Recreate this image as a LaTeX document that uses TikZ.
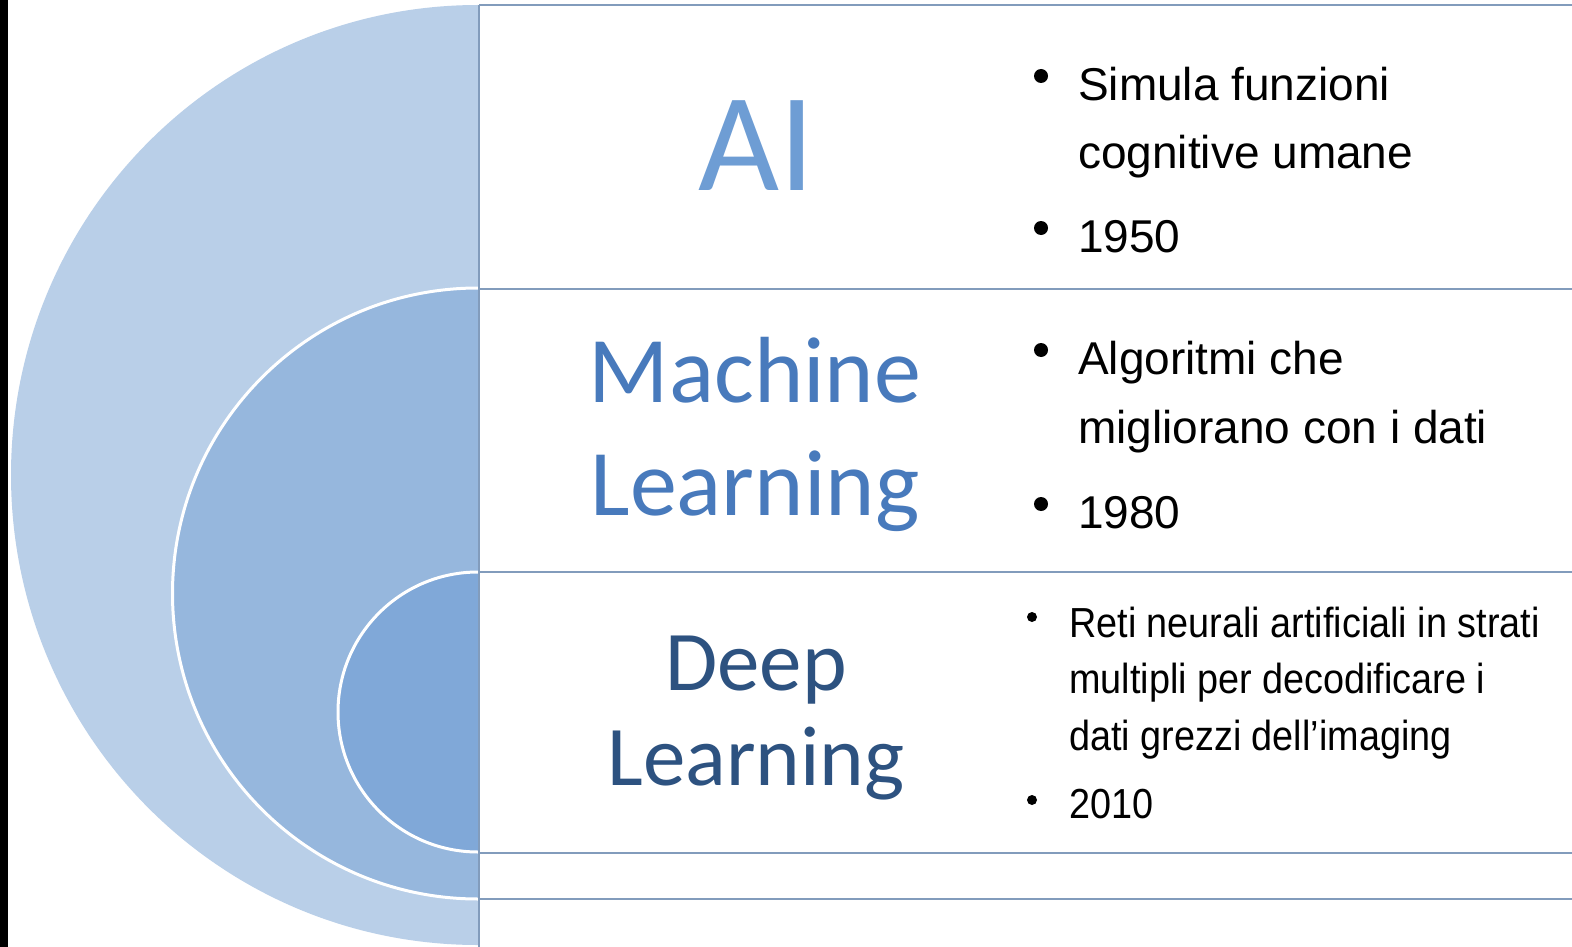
\documentclass[tikz,border=0pt]{standalone}
\usepackage{fontspec}
\setmainfont{Liberation Sans}
\newfontfamily\calibri{Carlito}
\newfontfamily\narrow[FakeStretch=0.9]{Liberation Sans}

\definecolor{outerfill}{RGB}{185,207,232}
\definecolor{midfill}{RGB}{150,183,221}
\definecolor{innerfill}{RGB}{128,168,216}
\definecolor{rulecol}{RGB}{130,156,188}
\definecolor{aicol}{RGB}{110,157,212}
\definecolor{mlcol}{RGB}{72,122,188}
\definecolor{dlcol}{RGB}{45,82,128}

\begin{document}
\begin{tikzpicture}[x=1pt, y=-1pt]
\tikzset{ring/.style = {draw=white, line width=3pt}}
\tikzset{rule/.style = {draw=rulecol, line width=2.5pt}}
\tikzset{title/.style = {align=center, inner sep=0pt, anchor=base}}
\tikzset{bullets/.style = {anchor=base west, align=left, inner sep=0pt}}

\useasboundingbox (0,0) rectangle (1572,947);
\fill[white] (0,0) rectangle (1572,947);
\fill[black] (0,0) rectangle (8,947);

% nested half discs
\fill[outerfill] (478,5) arc[start angle=270, end angle=90, x radius=467, y radius=470] -- cycle;
\fill[midfill] (478,288) arc[start angle=270, end angle=90, radius=305.5] -- cycle;
\draw[ring] (478,288) arc[start angle=270, end angle=90, radius=305.5];
\fill[innerfill] (478,572) arc[start angle=270, end angle=90, radius=140] -- cycle;
\draw[ring] (478,572) arc[start angle=270, end angle=90, radius=140];

% table rules
\foreach \y in {5,289,572,853,899}
  \draw[rule] (479,\y) -- (1572,\y);
\draw[rule] (479,5) -- (479,947);

% titles (base = last line)
\node[title, text=aicol, font=\calibri\fontsize{140}{140}\selectfont] (ai) at (757,190) {AI};
\node[title, text=mlcol, font=\calibri\fontsize{94}{113}\selectfont] (ml) at (755,515) {Machine\\Learning};
\node[title, text=dlcol, font=\calibri\fontsize{85}{95}\selectfont] (dl) at (756,785) {Deep\\Learning};

% bullet points
\foreach \x/\y/\r in {1041/76/7, 1041/228/7, 1041/350/7, 1041/504/7, 1032/617/5, 1032/800/5}
  \fill[black] (\x,\y) circle (\r);

\node[bullets, font=\fontsize{46}{68}\selectfont] (aione) at (1078,168) {Simula funzioni\\cognitive umane};
\node[bullets, font=\fontsize{46}{68}\selectfont] (aitwo) at (1078,252) {1950};
\node[bullets, font=\fontsize{46}{69}\selectfont] (mlone) at (1078,443) {Algoritmi che\\migliorano con i dati};
\node[bullets, font=\fontsize{46}{68}\selectfont] (mltwo) at (1078,528) {1980};
\node[bullets, font=\narrow\fontsize{42}{56.5}\selectfont] (dlone) at (1069,750) {Reti neurali artificiali in strati\\multipli per decodificare i\\dati grezzi dell’imaging};
\node[bullets, font=\narrow\fontsize{42}{56}\selectfont] (dltwo) at (1069,818) {2010};

\end{tikzpicture}
\end{document}
